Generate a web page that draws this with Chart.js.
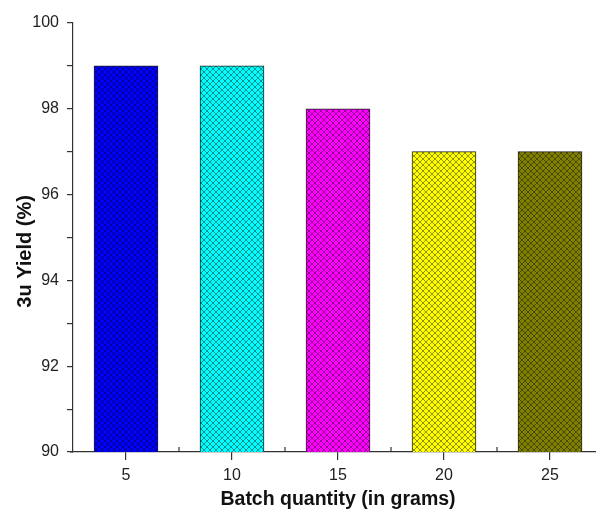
<!DOCTYPE html>
<html>
<head>
<meta charset="utf-8">
<script src="https://cdn.jsdelivr.net/npm/chart.js@4/dist/chart.umd.min.js"></script>
<style>
  html, body { margin: 0; padding: 0; background: #fff; overflow: hidden; }
  #wrap { width: 604px; height: 511px; position: relative; }
</style>
</head>
<body>
<div id="wrap"><canvas id="myChart"></canvas></div>
<script>
const batchSizes = ["5", "10", "15", "20", "25"];
const yieldValues = [99, 99, 98, 97, 97];
const barColors = ["#0000ff", "#00ffff", "#ff00ff", "#ffff00", "#808000"];
const yTicks = [90, 92, 94, 96, 98, 100];

// crosshatch fill, like the origin plot
function hatch(color) {
  const c = document.createElement("canvas");
  c.width = 6;
  c.height = 6;
  const g = c.getContext("2d");
  g.fillStyle = color;
  g.fillRect(0, 0, 6, 6);
  g.strokeStyle = "rgba(0,0,0,0.42)";
  g.lineWidth = 1;
  g.beginPath();
  g.moveTo(-1, -1); g.lineTo(7, 7);
  g.moveTo(-1, 5); g.lineTo(1, 7);
  g.moveTo(5, -1); g.lineTo(7, 1);
  g.moveTo(7, -1); g.lineTo(-1, 7);
  g.moveTo(1, -1); g.lineTo(-1, 1);
  g.moveTo(7, 5); g.lineTo(5, 7);
  g.stroke();
  return g.createPattern(c, "repeat");
}

const minorTicks = {
  id: "minorTicks",
  afterDraw(chart) {
    const ctx = chart.ctx;
    const x = chart.scales.x;
    const y = chart.scales.y;
    ctx.save();
    ctx.strokeStyle = "#333";
    ctx.lineWidth = 1.2;
    ctx.beginPath();
    for (let i = 0; i < batchSizes.length - 1; i++) {
      const px = (x.getPixelForValue(i) + x.getPixelForValue(i + 1)) / 2;
      ctx.moveTo(px, y.bottom);
      ctx.lineTo(px, y.bottom - 5);
    }
    // small overhang of the bottom axis past the left axis
    ctx.moveTo(x.left - 3, y.bottom);
    ctx.lineTo(x.left, y.bottom);
    ctx.stroke();
    ctx.restore();
  }
};

const ctx = document.getElementById("myChart").getContext("2d");
new Chart(ctx, {
  type: "bar",
  data: {
    labels: batchSizes,
    datasets: [
      {
        data: yieldValues,
        backgroundColor: barColors.map(hatch),
        borderColor: "#222",
        borderWidth: 1,
        borderSkipped: false,
        barThickness: 64,
      },
    ],
  },
  options: {
    responsive: true,
    maintainAspectRatio: false,
    animation: false,
    layout: { padding: { top: 23, right: 1, left: 0, bottom: 0 } },
    plugins: { legend: { display: false }, tooltip: { enabled: false } },
    scales: {
      x: {
        offset: true,
        grid: {
          offset: false,
          drawOnChartArea: false,
          tickLength: 8,
          color: "#333",
          lineWidth: 1.2,
        },
        border: { color: "#333", width: 1.2 },
        ticks: { color: "#222", font: { family: "Liberation Sans, Arial", size: 16 }, padding: 6 },
        title: {
          display: true,
          text: "Batch quantity (in grams)",
          color: "#111",
          font: { family: "Liberation Sans, Arial", size: 19.5, weight: "bold" },
          padding: { top: 2, bottom: 0 },
        },
        afterFit(scale) { scale.height = 59; },
      },
      y: {
        min: 90,
        max: 100,
        ticks: {
          stepSize: 1,
          color: "#222",
          font: { family: "Liberation Sans, Arial", size: 16 },
          padding: 8,
          callback: (v) => (yTicks.includes(v) ? v : ""),
        },
        grid: {
          drawOnChartArea: false,
          tickLength: 6,
          color: "#333",
          lineWidth: 1.2,
        },
        border: { color: "#333", width: 1.2 },
        title: {
          display: true,
          // trailing spaces nudge the rotated title down a little
          text: "3u Yield (%)\u00a0\u00a0\u00a0\u00a0\u00a0",
          color: "#111",
          font: { family: "Liberation Sans, Arial", size: 20, weight: "bold" },
          padding: { top: 13, bottom: 0 },
        },
        afterFit(scale) { scale.width = 73; },
      },
    },
  },
  plugins: [minorTicks],
});
</script>
</body>
</html>
